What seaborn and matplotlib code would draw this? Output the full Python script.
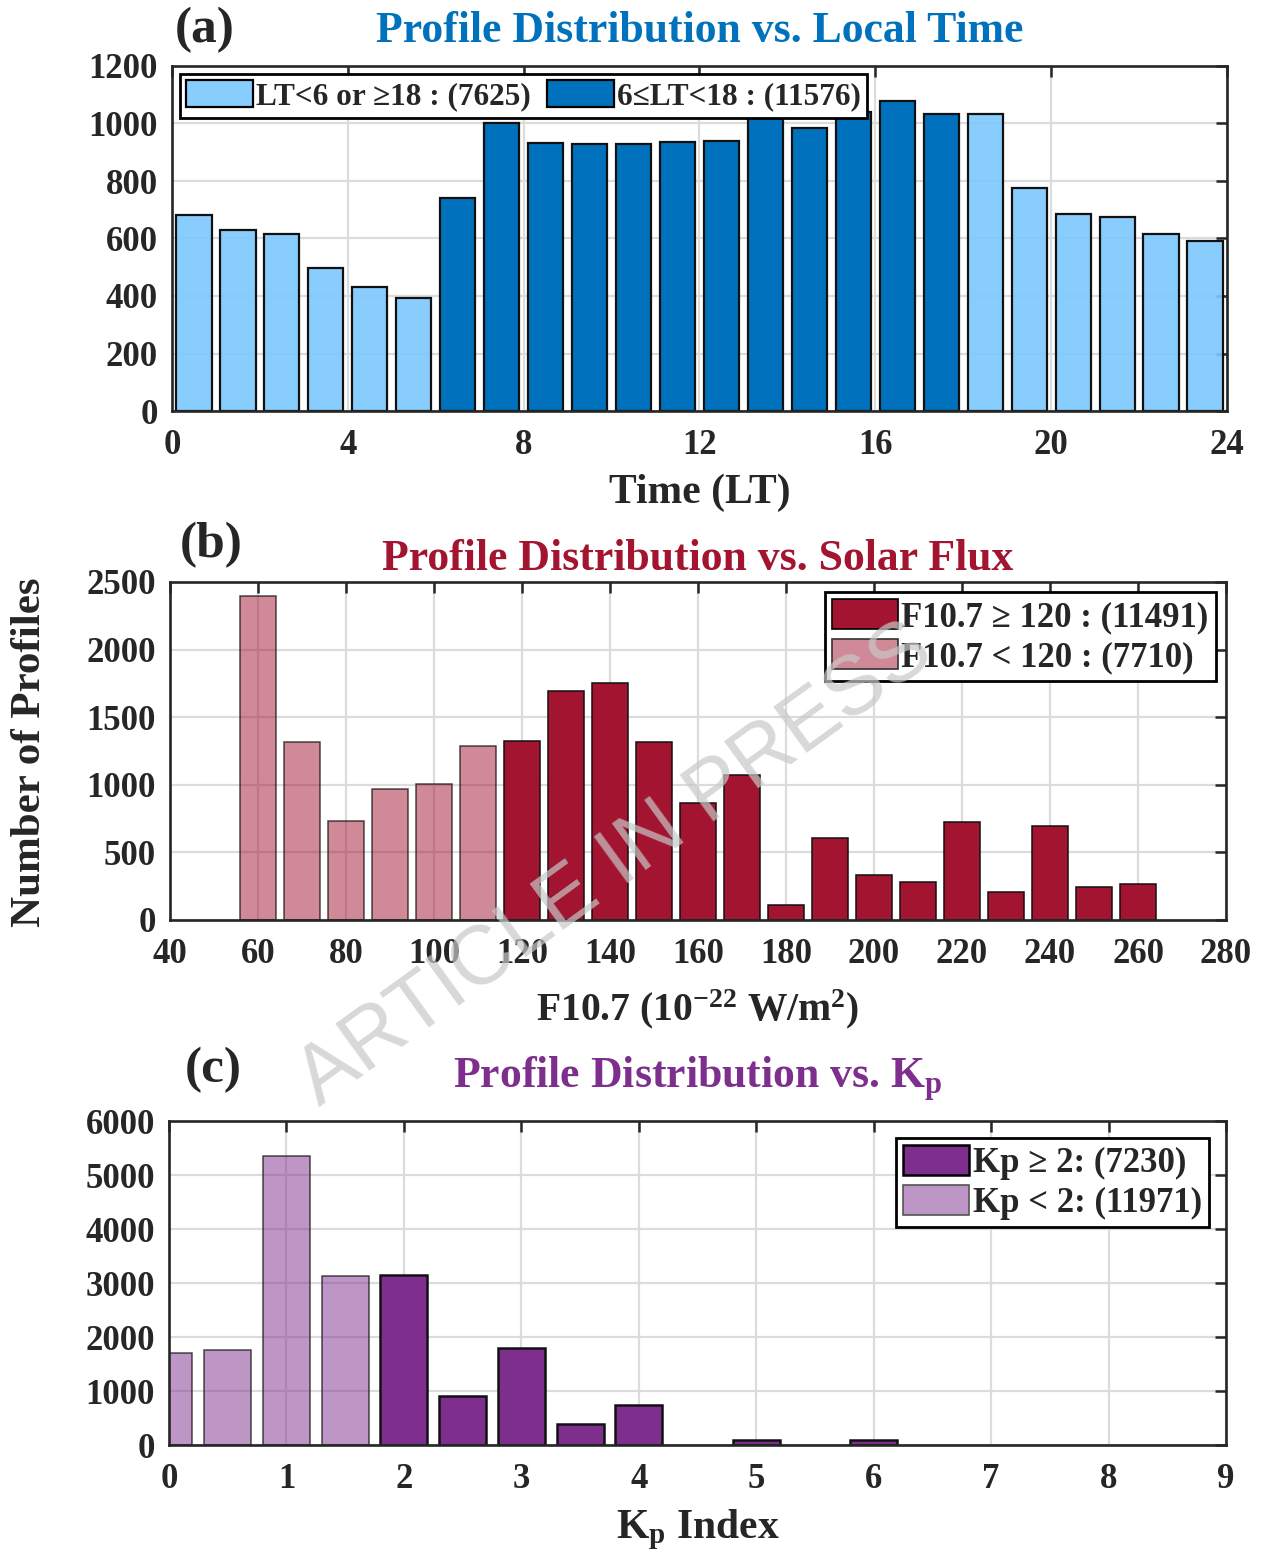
import numpy as np
import pandas as pd
import matplotlib
matplotlib.use("Agg")
import matplotlib.pyplot as plt
from matplotlib.patches import Patch
from matplotlib.colors import to_rgba
import seaborn as sns

# ---------------- data ----------------
lt_hours = [0.5, 1.5, 2.5, 3.5, 4.5, 5.5, 6.5, 7.5, 8.5, 9.5, 10.5, 11.5,
            12.5, 13.5, 14.5, 15.5, 16.5, 17.5, 18.5, 19.5, 20.5, 21.5, 22.5, 23.5]
lt_counts = [680, 629, 614, 499, 432, 394, 741, 1000, 933, 927, 927, 936,
             938, 1021, 983, 1039, 1079, 1034, 1032, 774, 684, 676, 616, 590]

f107_bins = [60, 70, 80, 90, 100, 110, 120, 130, 140, 150, 160,
             170, 180, 190, 200, 210, 220, 230, 240, 250, 260]
f107_counts = [2398, 1314, 735, 968, 1007, 1287, 1327, 1695, 1752, 1319, 865,
               1074, 113, 604, 332, 278, 725, 209, 695, 243, 263]

kp_bins = [0.0, 0.5, 1.0, 1.5, 2.0, 2.5, 3.0, 3.5, 4.0, 5.0, 6.0]
kp_counts = [1705, 1755, 5356, 3123, 3153, 914, 1804, 393, 742, 85, 85]

lt_labels = ["LT<6 or \u226518 : (7625)", "6\u2264LT<18 : (11576)"]
f107_labels = ["F10.7 \u2265 120 : (11491)", "F10.7 < 120 : (7710)"]
kp_labels = ["Kp \u2265 2: (7230)", "Kp < 2: (11971)"]

# ---------------- style ----------------
sns.set_theme(style="white")
plt.rcParams["font.family"] = ["Liberation Serif", "DejaVu Serif"]
plt.rcParams["font.weight"] = "bold"
plt.rcParams["axes.labelweight"] = "bold"
plt.rcParams["axes.titleweight"] = "bold"
plt.rcParams["mathtext.fontset"] = "custom"
plt.rcParams["mathtext.rm"] = "Liberation Serif:bold"
plt.rcParams["mathtext.it"] = "Liberation Serif:bold"
plt.rcParams["mathtext.bf"] = "Liberation Serif:bold"

BLUE_L, BLUE_D = "#7CC8FF", "#0072BD"
RED = "#A2142F"
PURPLE = "#7E2F8E"

fig = plt.figure(figsize=(12.63, 15.6), dpi=100)
W, H = 1263, 1560


def add_ax(l, t, r, b):
    return fig.add_axes([l / W, 1 - b / H, (r - l) / W, (b - t) / H])


ax_a = add_ax(172, 66, 1227, 411)
ax_b = add_ax(170, 582, 1226, 920)
ax_c = add_ax(169, 1121, 1226, 1445)


def bars(ax, x, y, color, alpha, lw):
    n0 = len(ax.patches)
    sns.barplot(x=x, y=y, ax=ax, native_scale=True, width=0.8, color=color,
                saturation=1, errorbar=None, edgecolor="black", linewidth=lw,
                zorder=2)
    for p in ax.patches[n0:]:
        p.set_facecolor(to_rgba(color, alpha))
        p.set_edgecolor(to_rgba("#111111", 1.0 if alpha > 0.8 else 0.75))


def style(ax, ylim, yticks, xlim, xticks):
    ax.set_xlim(*xlim)
    ax.set_ylim(*ylim)
    ax.set_xticks(xticks)
    ax.set_yticks(yticks)
    ax.set_axisbelow(True)
    ax.grid(True, color="#DCDCDC", linewidth=1.6)
    ax.tick_params(direction="in", length=8, width=1.8, top=True, right=True,
                   labelsize=25, colors="#262626", labelcolor="#262626")
    ax.tick_params(axis="x", pad=13)
    ax.tick_params(axis="y", pad=10)
    for s in ax.spines.values():
        s.set_linewidth(1.9)
        s.set_color("#262626")
    ax.set_facecolor("white")


LEG = dict(frameon=True, fancybox=False, edgecolor="black", framealpha=1,
           handleheight=0.95, handletextpad=0.1, borderpad=0.2)

# ---------------- (a) ----------------
lt = pd.DataFrame({"hour": lt_hours, "count": lt_counts})
day = lt[(lt.hour > 6) & (lt.hour < 18)]
night = lt[(lt.hour < 6) | (lt.hour > 18)]
bars(ax_a, night.hour.values, night["count"].values, BLUE_L, 0.9, 1.6)
bars(ax_a, day.hour.values, day["count"].values, BLUE_D, 1.0, 1.6)
style(ax_a, (0, 1200), range(0, 1201, 200), (0, 24), range(0, 25, 4))
ax_a.set_xlabel("Time (LT)", fontsize=30, labelpad=8)
ax_a.set_ylabel("")
ax_a.set_title("Profile Distribution vs. Local Time", color=BLUE_D,
               fontsize=31.5, pad=17)
h_a = [Patch(facecolor=to_rgba(BLUE_L, 0.9), edgecolor="black", linewidth=1.6),
       Patch(facecolor=BLUE_D, edgecolor="black", linewidth=1.6)]
lg = ax_a.legend(h_a, lt_labels, loc="upper left", ncol=2, fontsize=22.5,
                 handlelength=2.15, columnspacing=0.5, borderaxespad=0.25,
                 **LEG)
lg.get_frame().set_linewidth(2.0)

# ---------------- (b) ----------------
fx = pd.DataFrame({"f107": f107_bins, "count": f107_counts})
low = fx[fx.f107 < 120]
high = fx[fx.f107 >= 120]
bars(ax_b, low.f107.values, low["count"].values, RED, 0.5, 1.1)
bars(ax_b, high.f107.values, high["count"].values, RED, 1.0, 1.1)
style(ax_b, (0, 2500), range(0, 2501, 500), (40, 280), range(40, 281, 20))
ax_b.set_xlabel("F10.7 (10$^{-22}$ W/m$^{2}$)", fontsize=28.5, labelpad=12)
ax_b.set_ylabel("")
ax_b.set_title("Profile Distribution vs. Solar Flux", color=RED,
               fontsize=31.5, pad=9)
h_b = [Patch(facecolor=RED, edgecolor="black", linewidth=1.2),
       Patch(facecolor=to_rgba(RED, 0.5), edgecolor="#333333", linewidth=1.2)]
lg = ax_b.legend(h_b, f107_labels, loc="upper right", fontsize=25,
                 handlelength=1.9, labelspacing=0.15, borderaxespad=0.3,
                 **LEG)
lg.get_frame().set_linewidth(2.0)

# ---------------- (c) ----------------
kp = pd.DataFrame({"kp": kp_bins, "count": kp_counts})
klow = kp[kp.kp < 2]
khigh = kp[kp.kp >= 2]
bars(ax_c, klow.kp.values, klow["count"].values, PURPLE, 0.5, 1.1)
bars(ax_c, khigh.kp.values, khigh["count"].values, PURPLE, 1.0, 1.8)
style(ax_c, (0, 6000), range(0, 6001, 1000), (0, 9), range(0, 10, 1))
ax_c.set_xlabel("K$_{p}$ Index", fontsize=30, labelpad=8)
ax_c.set_ylabel("")
ax_c.set_title("Profile Distribution vs. K$_{p}$", color=PURPLE,
               fontsize=31.5, pad=24)
h_c = [Patch(facecolor=PURPLE, edgecolor="black", linewidth=1.8),
       Patch(facecolor=to_rgba(PURPLE, 0.5), edgecolor="#555555", linewidth=1.2)]
lg = ax_c.legend(h_c, kp_labels, loc="upper right", fontsize=25,
                 handlelength=1.9, labelspacing=0.15, borderaxespad=0.5,
                 **LEG)
lg.get_frame().set_linewidth(2.0)

# ---------------- figure texts ----------------
fig.text(175 / W, 1 - 30 / H, "(a)", fontsize=37, fontweight="bold",
         ha="left", va="center")
fig.text(180 / W, 1 - 545 / H, "(b)", fontsize=37, fontweight="bold",
         ha="left", va="center")
fig.text(185 / W, 1 - 1070 / H, "(c)", fontsize=37, fontweight="bold",
         ha="left", va="center")
fig.text(30 / W, 1 - 752 / H, "Number of Profiles", fontsize=31,
         fontweight="bold", rotation=90, ha="center", va="center",
         color="#262626")
fig.text(615 / W, 1 - 865 / H, "ARTICLE IN PRESS", fontsize=60,
         family="Liberation Sans", fontweight="normal", rotation=36,
         ha="center", va="center", color="#C8C8C8", alpha=0.7, zorder=10)

fig.savefig("out.png", dpi=100, facecolor="white")
